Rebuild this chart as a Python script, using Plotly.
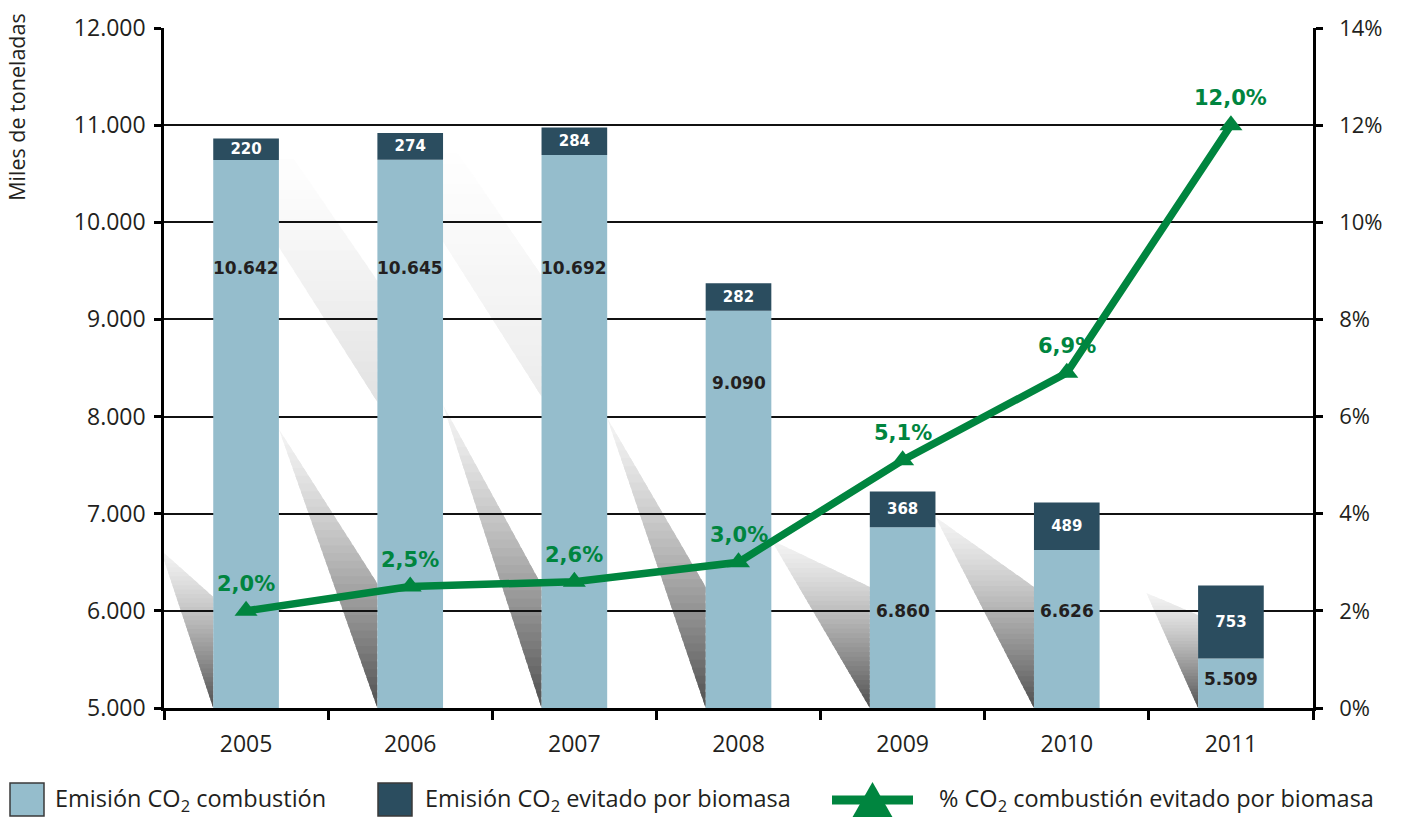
import plotly.graph_objects as go

# --- data -------------------------------------------------------------
years = ["2005", "2006", "2007", "2008", "2009", "2010", "2011"]
combustion = [10642, 10645, 10692, 9090, 6860, 6626, 5509]      # miles de toneladas
evitado = [220, 274, 284, 282, 368, 489, 753]                    # miles de toneladas
pct_evitado = [2.0, 2.5, 2.6, 3.0, 5.1, 6.9, 12.0]               # %
y_ticks = [5000, 6000, 7000, 8000, 9000, 10000, 11000, 12000]
pct_ticks = [0, 2, 4, 6, 8, 10, 12, 14]

# --- styling ----------------------------------------------------------
LIGHT = "#95bdcc"
DARK = "#2b4d5f"
GREEN = "#00853f"
INK = "#231f20"
TICK_FONT = dict(family="Open Sans", size=23, color=INK)
BAR_W = 0.4
Y0 = 5000

# vertical placement of the combustion labels inside each bar (axis units)
combustion_label_y = [9530, 9530, 9530, 8346, 6000, 6000, 5300]
# decorative cast shadow left of each bar: apex offset / apex height / knee height
shadow_dx = [0.32, 0.6, 0.6, 0.6, 0.6, 0.6, 0.315]
shadow_apex_y = [6626, 7870, 8120, 7985, 6729, 6966, 6184]
shadow_knee_y = [6143, 6280, 6266, 6246, 6246, 6246, 5957]
# faint upper streak (only where it shows between two tall bars)
streak_tone = [None, 226, 236, None, None, None, None]


def fmt_thousands(v):
    return f"{v:,}".replace(",", ".")


def fmt_pct(v):
    return f"{v:.1f}".replace(".", ",") + "%"


def clip_half(poly, y, keep_above):
    out = []
    n = len(poly)
    for k in range(n):
        p, q = poly[k], poly[(k + 1) % n]
        in_p = p[1] >= y if keep_above else p[1] <= y
        in_q = q[1] >= y if keep_above else q[1] <= y
        if in_p:
            out.append(p)
        if in_p != in_q:
            t = (y - p[1]) / (q[1] - p[1])
            out.append((p[0] + t * (q[0] - p[0]), y))
    return out


def gradient_strips(poly, y_low, y_high, c_top, c_bottom, gamma, n=36):
    """Fill a polygon with a vertical grey gradient made of thin strips."""
    res = []
    h = (y_high - y_low) / n
    for k in range(n):
        y1 = y_high - k * h
        y0 = max(y_low, y1 - 1.7 * h)
        piece = clip_half(clip_half(poly, y0, True), y1, False)
        if len(piece) < 3:
            continue
        t = ((y_high - (y0 + y1) / 2) / (y_high - y_low)) ** gamma
        g = int(round(c_top + (c_bottom - c_top) * t))
        path = "M " + " L ".join(f"{px:.5f},{py:.2f}" for px, py in piece) + " Z"
        res.append(dict(type="path", path=path, xref="x", yref="y", layer="below",
                        fillcolor=f"rgb({g},{g},{g})", line=dict(width=0)))
    return res


x = list(range(len(years)))
totals = [c + e for c, e in zip(combustion, evitado)]

fig = go.Figure()

fig.add_trace(go.Bar(
    x=x, y=combustion, base=0, width=BAR_W, marker=dict(color=LIGHT, line_width=0),
    hoverinfo="skip", showlegend=False,
))
fig.add_trace(go.Bar(
    x=x, y=evitado, base=combustion, width=BAR_W, marker=dict(color=DARK, line_width=0),
    text=[str(v) for v in evitado], textposition="inside", insidetextanchor="middle",
    textfont=dict(family="DejaVu Sans", size=15, color="white", weight="bold"),
    textangle=0, hoverinfo="skip", showlegend=False,
))
fig.add_trace(go.Scatter(
    x=x, y=pct_evitado, yaxis="y2", mode="lines+markers",
    line=dict(color=GREEN, width=7.5),
    marker=dict(symbol="triangle-up", size=20, color=GREEN),
    hoverinfo="skip", showlegend=False,
))

# --- cast shadows -------------------------------------------------------
shapes = []
for i in range(len(years)):
    xl = x[i] - BAR_W / 2
    tri = [(xl - shadow_dx[i], shadow_apex_y[i]), (xl, shadow_knee_y[i]), (xl, Y0)]
    shapes += gradient_strips(tri, Y0, shadow_apex_y[i], 244, 82, 1.3)
    if streak_tone[i] is not None:
        top = totals[i]
        streak = [(xl - 0.6, top - 268), (xl - 0.51, top - 268), (xl, top - 1523),
                  (xl, top - 2769), (xl - 0.6, top - 1173)]
        shapes += gradient_strips(streak, top - 2769, top - 268, 254, streak_tone[i], 1.2, n=24)

# --- labels -----------------------------------------------------------
annotations = []
for i in range(len(years)):
    annotations.append(dict(
        x=x[i], y=combustion_label_y[i], xref="x", yref="y",
        text=fmt_thousands(combustion[i]), showarrow=False,
        font=dict(family="DejaVu Sans", size=17, color=INK, weight="bold"),
    ))
    annotations.append(dict(
        x=x[i], y=pct_evitado[i], xref="x", yref="y2", yshift=27,
        text=fmt_pct(pct_evitado[i]), showarrow=False,
        font=dict(family="DejaVu Sans", size=21, color=GREEN, weight="bold"),
    ))

annotations.append(dict(
    x=-0.128, y=0.884, xref="paper", yref="paper", xanchor="center", yanchor="middle",
    text="Miles de toneladas", textangle=-90, showarrow=False,
    font=dict(family="Open Sans", size=21.5, color=INK),
))

# --- legend drawn below the plot ---------------------------------------
PX_L, PX_W, PX_B, PX_H = 164, 1149, 708, 680


def px_x(p):
    return (p - PX_L) / PX_W


def px_y(p):
    return (PX_B - p) / PX_H


LEG_Y = 800
LEG_FONT = dict(family="Open Sans", size=23.5, color=INK)
legend_items = [
    (10, LIGHT, "Emisión CO<sub>2</sub> combustión", 54),
    (378, DARK, "Emisión CO<sub>2</sub> evitado por biomasa", 424),
]
for sx, col, label, tx in legend_items:
    shapes.append(dict(
        type="rect", xref="paper", yref="paper",
        x0=px_x(sx), x1=px_x(sx + 34), y0=px_y(LEG_Y - 17), y1=px_y(LEG_Y + 16),
        fillcolor=col, line=dict(color="#3a3a3a", width=1.5), layer="above",
    ))
    annotations.append(dict(
        x=px_x(tx), y=px_y(LEG_Y - 1), xref="paper", yref="paper",
        xanchor="left", yanchor="middle", borderpad=0,
        text=label, showarrow=False, font=LEG_FONT,
    ))

shapes.append(dict(
    type="line", xref="paper", yref="paper",
    x0=px_x(832), x1=px_x(913), y0=px_y(LEG_Y), y1=px_y(LEG_Y),
    line=dict(color=GREEN, width=9),
))
tri_path = (f"M {px_x(852):.5f},{px_y(818):.5f} L {px_x(893):.5f},{px_y(818):.5f} "
            f"L {px_x(872.5):.5f},{px_y(782):.5f} Z")
shapes.append(dict(type="path", xref="paper", yref="paper", path=tri_path,
                   fillcolor=GREEN, line=dict(width=0)))
annotations.append(dict(
    x=px_x(938), y=px_y(LEG_Y - 1), xref="paper", yref="paper",
    xanchor="left", yanchor="middle", borderpad=0,
    text="% CO<sub>2</sub> combustión evitado por biomasa", showarrow=False, font=LEG_FONT,
))

fig.update_layout(
    width=1403, height=817,
    margin=dict(l=164, r=90, t=28, b=109),
    paper_bgcolor="white", plot_bgcolor="white",
    barmode="overlay",
    uniformtext=dict(minsize=15, mode="show"),
    shapes=shapes, annotations=annotations,
    xaxis=dict(
        range=[-0.5, 6.5], tickmode="array", tickvals=x, ticktext=years,
        ticks="", showgrid=False, zeroline=False,
        showline=True, linecolor="black", linewidth=2.5,
        tickfont=TICK_FONT, ticklabelstandoff=14,
        minor=dict(tickmode="array", tickvals=[v - 0.5 for v in range(len(years) + 1)],
                   ticks="outside", ticklen=9, tickwidth=2.5, tickcolor="black"),
    ),
    yaxis=dict(
        range=[5000, 12000], tickmode="array", tickvals=y_ticks,
        ticktext=[fmt_thousands(v) for v in y_ticks],
        showgrid=True, gridcolor="#111111", gridwidth=2, zeroline=False,
        showline=True, linecolor="black", linewidth=2.5,
        ticks="outside", ticklen=7, tickwidth=2.5, tickcolor="black",
        tickfont=TICK_FONT, ticklabelstandoff=4,
    ),
    yaxis2=dict(
        range=[0, 14], overlaying="y", side="right", tickmode="array",
        tickvals=pct_ticks, ticktext=[f"{v}%" for v in pct_ticks],
        showgrid=False, zeroline=False,
        showline=True, linecolor="black", linewidth=2.5,
        ticks="outside", ticklen=7, tickwidth=2.5, tickcolor="black",
        tickfont=dict(TICK_FONT, size=22), ticklabelstandoff=12,
    ),
)

fig.write_html("out.html")
